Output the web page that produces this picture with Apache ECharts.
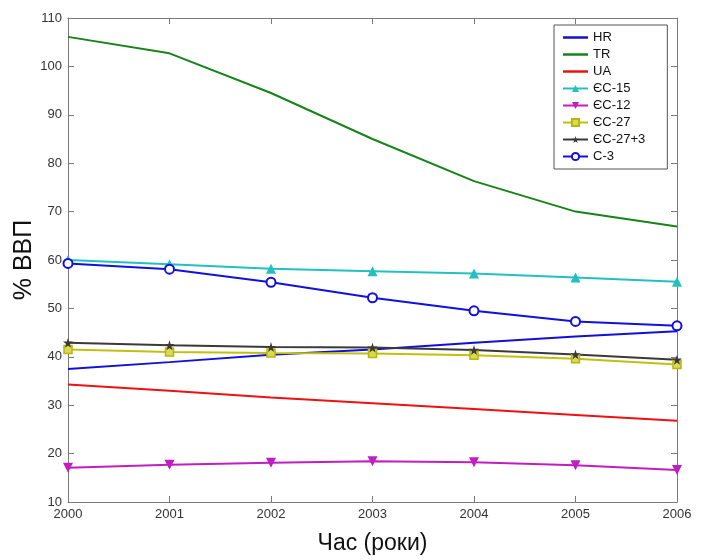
<!DOCTYPE html>
<html><head><meta charset="utf-8">
<script src="https://cdn.jsdelivr.net/npm/echarts@6/dist/echarts.min.js"></script>
<style>html,body{margin:0;padding:0;background:#fff}#c{width:708px;height:560px}</style>
</head><body><div id="c"></div>
<script>
const years = [2000, 2001, 2002, 2003, 2004, 2005, 2006];
const yTicks = [10, 20, 30, 40, 50, 60, 70, 80, 90, 100, 110];
const HR = [37.5, 38.9, 40.4, 41.5, 42.9, 44.2, 45.3];
const TR = [106.1, 102.7, 94.5, 85.0, 76.3, 70.0, 66.9];
const UA = [34.3, 33.0, 31.6, 30.4, 29.2, 28.0, 26.8];
const EC15 = [60.0, 59.1, 58.2, 57.7, 57.2, 56.4, 55.5];
const EC12 = [17.1, 17.7, 18.1, 18.4, 18.2, 17.6, 16.6];
const EC27 = [41.5, 41.0, 40.8, 40.7, 40.3, 39.6, 38.4];
const EC27p3 = [42.9, 42.4, 42.0, 41.9, 41.4, 40.5, 39.4];
const C3 = [59.3, 58.1, 55.4, 52.2, 49.5, 47.3, 46.4];
const names = ['HR', 'TR', 'UA', 'ЄС-15', 'ЄС-12', 'ЄС-27', 'ЄС-27+3', 'С-3'];

const pairs = v => years.map((y, i) => [y, v[i]]);
const font = '"Liberation Sans", Arial, sans-serif';
const axisColor = '#7a7a7a';
const star = 'path://M50,0 L61,35 L98,35 L68,57 L79,91 L50,70 L21,91 L32,57 L2,35 L39,35 Z';
const lineIcon = 'path://M0,0 L50,0 L50,5 L0,5 Z';

function mk(name, data, color, symbol, extra) {
  return Object.assign({
    name: name, type: 'line', data: pairs(data),
    symbol: symbol || 'none', symbolSize: 9,
    lineStyle: { color: color, width: 2 },
    itemStyle: { color: color },
    emphasis: { disabled: true },
    animation: false, z: 3
  }, extra || {});
}

const series = [
  mk(names[0], HR, '#1010d8'),
  mk(names[1], TR, '#17841a'),
  mk(names[2], UA, '#ee1111'),
  mk(names[3], EC15, '#22c0c0', 'triangle', { symbolSize: 10 }),
  mk(names[4], EC12, '#c01ec0', 'triangle', { symbolSize: 10, symbolRotate: 180 }),
  mk(names[5], EC27, '#c0c010', 'rect', { symbolSize: 8, itemStyle: { color: '#d8d860', borderColor: '#b8b800', borderWidth: 1.5 } }),
  mk(names[6], EC27p3, '#3a3a3a', star, { symbolSize: 10 }),
  mk(names[7], C3, '#1010e0', 'emptyCircle', { symbolSize: 9, itemStyle: { color: '#1010e0', borderWidth: 2 } })
];

const legendData = names.map((n, i) => i < 3 ? { name: n, icon: lineIcon } : { name: n });

const baseAxisStyle = {
  axisLine: { show: true, onZero: false, lineStyle: { color: axisColor, width: 1 } },
  axisTick: { show: true, inside: true, length: 6, lineStyle: { color: axisColor } },
  splitLine: { show: false }
};

const chart = echarts.init(document.getElementById('c'), null, { renderer: 'canvas' });
chart.setOption({
  backgroundColor: '#ffffff',
  animation: false,
  textStyle: { fontFamily: font },
  grid: { left: 68, right: 31, top: 18, bottom: 52, containLabel: false },
  legend: {
    data: legendData, orient: 'vertical', left: 554, top: 25,
    padding: [6, 22, 6, 8], itemGap: 4, itemWidth: 25, itemHeight: 9,
    borderColor: '#555', borderWidth: 1, backgroundColor: '#fff',
    textStyle: { fontSize: 13, color: '#111', fontFamily: font },
    selectedMode: false
  },
  xAxis: [
    Object.assign({
      type: 'value', min: years[0], max: years[years.length - 1], interval: 1, position: 'bottom',
      axisLabel: { show: true, color: '#333', fontSize: 13, margin: 6, fontFamily: font, formatter: v => String(v) },
      name: 'Час (роки)', nameLocation: 'middle', nameGap: 30, nameMoveOverlap: false,
      nameTextStyle: { fontSize: 23, color: '#111', fontFamily: font }
    }, baseAxisStyle),
    Object.assign({
      type: 'value', min: years[0], max: years[years.length - 1], interval: 1, position: 'top',
      axisLabel: { show: false }
    }, baseAxisStyle)
  ],
  yAxis: [
    Object.assign({
      type: 'value', min: yTicks[0], max: yTicks[yTicks.length - 1], interval: 10, position: 'left',
      axisLabel: { show: true, color: '#333', fontSize: 13, margin: 6, fontFamily: font, formatter: v => String(v) },
      name: '% ВВП', nameLocation: 'middle', nameGap: 31, nameRotate: 90, nameMoveOverlap: false,
      nameTextStyle: { fontSize: 25, color: '#111', fontFamily: font }
    }, baseAxisStyle),
    Object.assign({
      type: 'value', min: yTicks[0], max: yTicks[yTicks.length - 1], interval: 10, position: 'right',
      axisLabel: { show: false }
    }, baseAxisStyle)
  ],
  series: series
});
</script></body></html>
